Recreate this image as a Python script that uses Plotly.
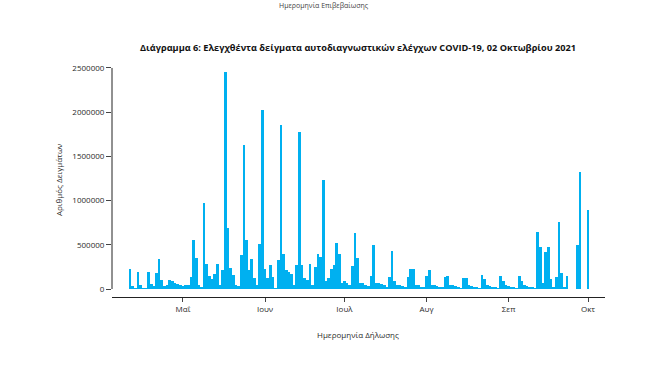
import pandas as pd
import plotly.graph_objects as go

# Daily values from 2021-04-11 to 2021-10-01
start_date = "2021-04-11"
samples = [
    230000, 30000, 10000, 190000, 45000, 10000, 5000, 190000, 60000, 30000,
    180000, 340000, 100000, 30000, 45000, 100000, 95000, 70000, 60000, 40000,
    35000, 40000, 50000, 140000, 555000, 355000, 45000, 20000, 975000, 280000,
    150000, 110000, 165000, 280000, 50000, 220000, 2450000, 690000, 235000, 155000,
    50000, 30000, 380000, 1630000, 555000, 215000, 335000, 130000, 50000, 510000,
    2020000, 230000, 120000, 270000, 135000, 5000, 325000, 1850000, 400000, 210000,
    190000, 170000, 40000, 270000, 1780000, 270000, 120000, 100000, 280000, 40000,
    250000, 400000, 360000, 1230000, 90000, 120000, 230000, 270000, 520000, 400000,
    65000, 95000, 65000, 45000, 260000, 630000, 350000, 70000, 65000, 45000,
    30000, 150000, 500000, 70000, 65000, 55000, 45000, 25000, 140000, 430000,
    90000, 50000, 45000, 35000, 15000, 140000, 225000, 230000, 50000, 40000,
    25000, 15000, 150000, 220000, 50000, 40000, 30000, 20000, 15000, 140000,
    150000, 50000, 40000, 30000, 20000, 10000, 130000, 130000, 45000, 35000,
    25000, 20000, 10000, 155000, 110000, 40000, 30000, 25000, 15000, 10000,
    150000, 90000, 40000, 30000, 20000, 15000, 10000, 150000, 95000, 40000,
    30000, 20000, 15000, 10000, 650000, 480000, 65000, 420000, 480000, 110000,
    15000, 140000, 760000, 180000, 15000, 150000, 0, 0, 0, 500000,
    1320000, 0, 0, 895000,
]
dates = pd.date_range(start_date, periods=len(samples), freq="D")

tick_dates = ["2021-05-01", "2021-06-01", "2021-07-01", "2021-08-01", "2021-09-01", "2021-10-01"]
tick_labels = ["Μαΐ", "Ιουν", "Ιουλ", "Αυγ", "Σεπ", "Οκτ"]
y_ticks = [0, 500000, 1000000, 1500000, 2000000, 2500000]

BAR = "#00B0F0"
FONT = "Open Sans, Noto Sans, DejaVu Sans, sans-serif"
TXT = "#2a2a2a"

L, R, T, B = 112, 57, 60, 79
PW = 662 - L - R
PH = 376 - T - B

fig = go.Figure()
fig.add_trace(go.Bar(x=dates, y=samples, marker=dict(color=BAR, line=dict(width=0)), width=86400000))

fig.update_layout(
    width=662, height=376,
    margin=dict(l=L, r=R, t=T, b=B, autoexpand=False),
    paper_bgcolor="white", plot_bgcolor="white",
    bargap=0, showlegend=False,
    font=dict(family=FONT, size=8, color=TXT),
)
fig.update_xaxes(
    type="date", range=["2021-04-04 04:48", "2021-10-07 09:36"], automargin=False,
    tickmode="array", tickvals=tick_dates, ticktext=tick_labels,
    ticks="outside", ticklen=4, tickcolor="#444444", tickwidth=1,
    tickfont=dict(size=8, color=TXT),
    showgrid=False, zeroline=False, showline=True, linecolor="#222222", linewidth=1,
)
fig.update_yaxes(
    range=[-90500, 2590000], automargin=False,
    tickmode="array", tickvals=y_ticks, tickformat="d",
    ticks="outside", ticklen=5, tickcolor="#444444", tickwidth=1,
    tickfont=dict(size=8, color=TXT),
    showgrid=False, zeroline=False, showline=False,
)
fig.add_shape(type="line", xref="paper", yref="y", x0=0, x1=0, y0=0, y1=2500000,
              line=dict(color="#222222", width=1))
fig.add_annotation(
    text="<b>Διάγραμμα 6: Ελεγχθέντα δείγματα αυτοδιαγνωστικών ελέγχων COVID-19, 02 Οκτωβρίου 2021</b>",
    xref="paper", yref="paper", x=(358 - L) / PW, y=1.0, yshift=13, xanchor="center", yanchor="middle",
    showarrow=False, font=dict(size=9.2, color="#111111"),
)
fig.add_annotation(
    text="Ημερομηνία Επιβεβαίωσης", xref="paper", yref="paper", x=(324 - L) / PW, y=1.0,
    yshift=55, xanchor="center", yanchor="middle", showarrow=False,
    font=dict(size=7, color="#444444"),
)
fig.add_annotation(
    text="Ημερομηνία Δήλωσης", xref="paper", yref="paper", x=(358 - L) / PW, y=0,
    yshift=-(334 - (T + PH)), xanchor="center", yanchor="middle", showarrow=False,
    font=dict(size=8, color=TXT),
)
fig.add_annotation(
    text="Αριθμός Δειγμάτων", xref="paper", yref="paper", x=0, xshift=-(L - 58), y=(T + PH - 180) / PH,
    xanchor="center", yanchor="middle", textangle=-90, showarrow=False,
    font=dict(size=8, color=TXT),
)
fig.write_html("out.html", config={"displayModeBar": False},
               post_script="document.body.style.margin='0';")
